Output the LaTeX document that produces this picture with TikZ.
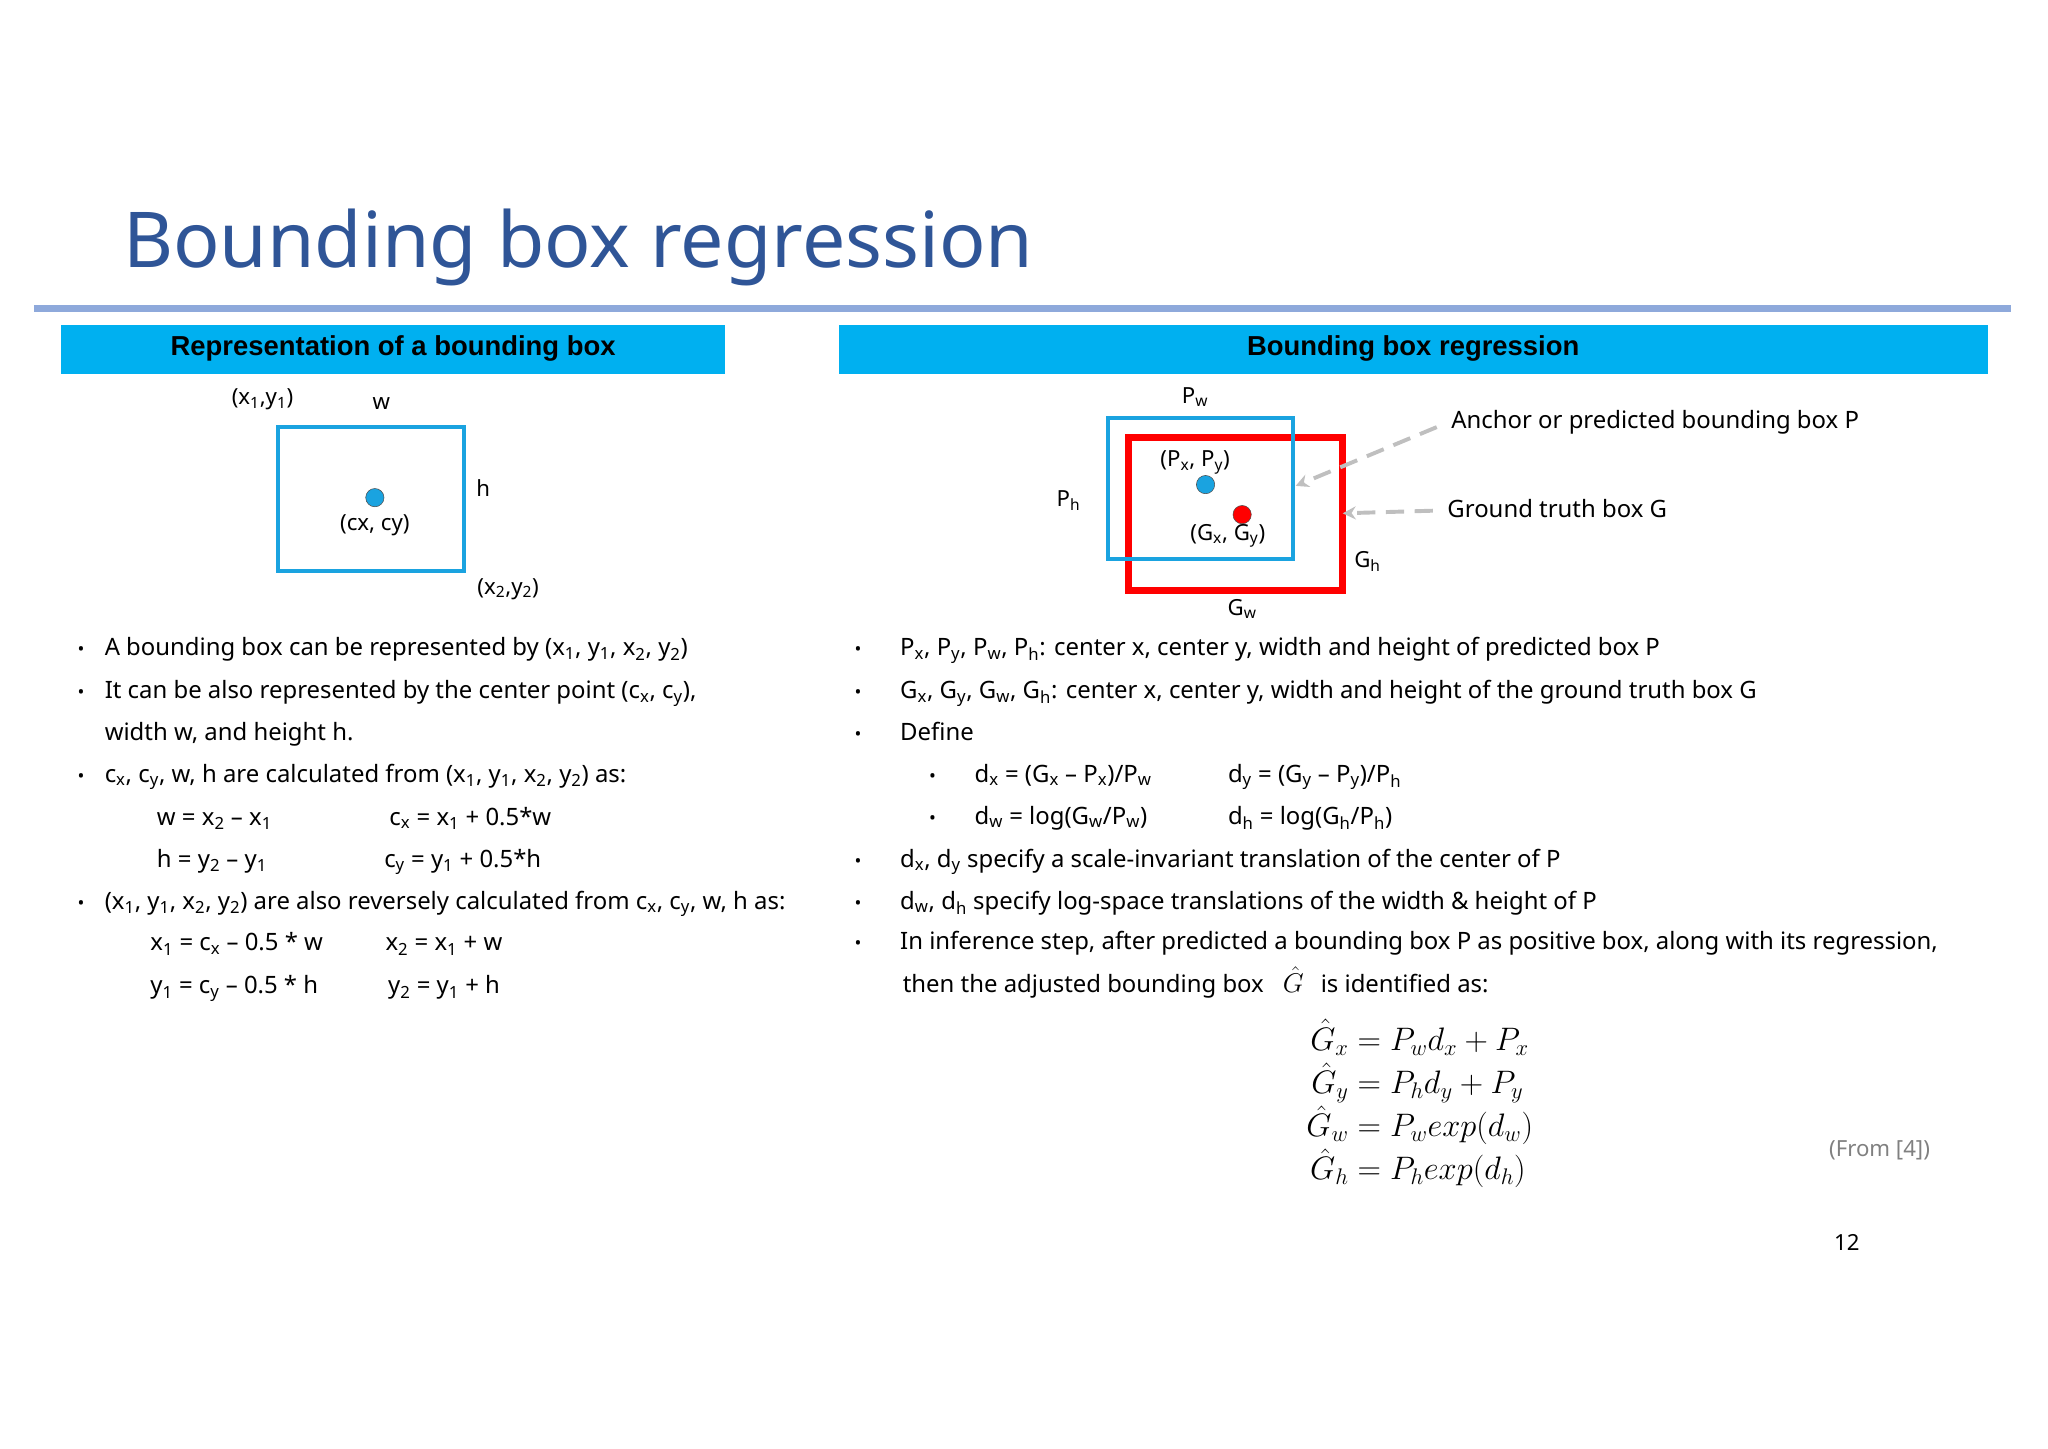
\documentclass[tikz,border=0pt]{standalone}
\usepackage{amsmath}
\usepackage{fontspec}
\setmainfont{Noto Sans}
\newfontfamily\hdrfont{Liberation Sans}
\usetikzlibrary{arrows.meta}
\definecolor{ttl}{HTML}{2F5597}
\definecolor{rule}{HTML}{8EA9DB}
\definecolor{hdr}{HTML}{00B0F0}
\definecolor{bbox}{HTML}{1AA3E0}
\newcommand{\sbs}[1]{\textsubscript{#1}}
\tikzset{
 txt/.style={anchor=base west,inner sep=0,font=\fontsize{18.3}{21}\selectfont},
 lbl/.style={inner sep=0,font=\fontsize{17}{20}\selectfont},
 bul/.style={anchor=base,inner sep=0,font=\fontsize{14}{20}\selectfont},
 hdrbox/.style={fill=hdr,draw=none},
 dashar/.style={draw=gray!50,line width=3pt,dash pattern=on 14pt off 8pt,-{Stealth[length=10pt,width=10pt]}},
}
\begin{document}
\begin{tikzpicture}[x=1pt,y=-1pt]
\useasboundingbox (0,0) rectangle (1568,1109);
\node[anchor=base west,inner sep=0,text=ttl,font=\fontsize{59}{66}\selectfont] (title) at (94,205) {Bounding box regression};
\draw[rule,line width=5pt] (26,236) -- (1540,236);
\fill[hdrbox] (47,249) rectangle (555,286);
\node[font=\hdrfont\fontsize{21}{24}\selectfont\bfseries] (h1) at (301,267) {Representation of a bounding box};
\fill[hdrbox] (642,249) rectangle (1522,286);
\node[font=\hdrfont\fontsize{21}{24}\selectfont\bfseries] (h2) at (1082,267) {Bounding box regression};
% left diagram
\draw[bbox,line width=3pt] (213,327) rectangle (355,437);
\node[circle,fill=bbox,draw=black!70,minimum size=14pt,inner sep=0] (c) at (287,381) {};
\node[lbl] (x1) at (201,306) {(x\sbs{1},y\sbs{1})};
\node[lbl] (w) at (292,309) {w};
\node[lbl] (h) at (370,374) {h};
\node[lbl] (cxy) at (287,402) {(cx, cy)};
\node[lbl] (x2) at (389,451) {(x\sbs{2},y\sbs{2})};
% right diagram
\draw[red,line width=5pt] (864,335) rectangle (1028,452);
\draw[bbox,line width=3pt] (848,320) rectangle (990,428);
\node[circle,fill=bbox,draw=black!70,minimum size=14pt,inner sep=0] (p) at (923,371) {};
\node[circle,fill=red,draw=black!70,minimum size=14pt,inner sep=0] (g) at (951,394) {};
\node[lbl] (pw) at (915,304) {P\sbs{w}};
\node[lbl] (ph) at (818,383) {P\sbs{h}};
\node[lbl] (pxy) at (915,354) {(P\sbs{x}, P\sbs{y})};
\node[lbl] (gxy) at (940,410) {(G\sbs{x}, G\sbs{y})};
\node[lbl] (gh) at (1047,430) {G\sbs{h}};
\node[lbl] (gw) at (951,466) {G\sbs{w}};
\node[txt,anchor=west] (an) at (1111,323) {Anchor or predicted bounding box P};
\node[txt,anchor=west] (gt) at (1108,389) {Ground truth box G};
\coordinate (a1) at (992,372);
\coordinate (a2) at (1028,393);
\coordinate (s1) at (1100,327);
\coordinate (s2) at (1097,391);
\draw[dashar] (s1) -- (a1);
\draw[dashar] (s2) -- (a2);
% left bullets
\foreach \y in {502,535,599,696} \node[bul] at (62,\y) {•};
\node[txt] at (80,502) {A bounding box can be represented by (x\sbs{1}, y\sbs{1}, x\sbs{2}, y\sbs{2})};
\node[txt] at (80,535) {It can be also represented by the center point (c\sbs{x}, c\sbs{y}),};
\node[txt] at (80,567) {width w, and height h.};
\node[txt] at (80,599) {c\sbs{x}, c\sbs{y}, w, h are calculated from (x\sbs{1}, y\sbs{1}, x\sbs{2}, y\sbs{2}) as:};
\node[txt] at (120,632) {w = x\sbs{2} – x\sbs{1}};
\node[txt] at (298,632) {c\sbs{x} = x\sbs{1} + 0.5*w};
\node[txt] at (120,664) {h = y\sbs{2} – y\sbs{1}};
\node[txt] at (294,664) {c\sbs{y} = y\sbs{1} + 0.5*h};
\node[txt] at (80,696) {(x\sbs{1}, y\sbs{1}, x\sbs{2}, y\sbs{2}) are also reversely calculated from c\sbs{x}, c\sbs{y}, w, h as:};
\node[txt] at (115,728) {x\sbs{1} = c\sbs{x} – 0.5 * w};
\node[txt] at (295,728) {x\sbs{2} = x\sbs{1} + w};
\node[txt] at (115,761) {y\sbs{1} = c\sbs{y} – 0.5 * h};
\node[txt] at (297,761) {y\sbs{2} = y\sbs{1} + h};
% right bullets
\foreach \y in {502,535,567,664,696,727} \node[bul] at (657,\y) {•};
\foreach \y in {599,631} \node[bul] at (714,\y) {•};
\node[txt] at (689,502) {P\sbs{x}, P\sbs{y}, P\sbs{w}, P\sbs{h}: center x, center y, width and height of predicted box P};
\node[txt] at (689,535) {G\sbs{x}, G\sbs{y}, G\sbs{w}, G\sbs{h}: center x, center y, width and height of the ground truth box G};
\node[txt] at (689,567) {Define};
\node[txt] at (746,599) {d\sbs{x} = (G\sbs{x} – P\sbs{x})/P\sbs{w}};
\node[txt] at (940,599) {d\sbs{y} = (G\sbs{y} – P\sbs{y})/P\sbs{h}};
\node[txt] at (746,631) {d\sbs{w} = log(G\sbs{w}/P\sbs{w})};
\node[txt] at (940,631) {d\sbs{h} = log(G\sbs{h}/P\sbs{h})};
\node[txt] at (689,664) {d\sbs{x}, d\sbs{y} specify a scale-invariant translation of the center of P};
\node[txt] at (689,696) {d\sbs{w}, d\sbs{h} specify log-space translations of the width \& height of P};
\node[txt] at (689,727) {In inference step, after predicted a bounding box P as positive box, along with its regression,};
\node[txt] at (691,760) {then the adjusted bounding box};
\node[txt,font=\fontsize{22}{24}\selectfont] at (982,760) {$\hat{G}$};
\node[txt] at (1011,760) {is identified as:};
\node[anchor=north,inner sep=0,font=\fontsize{24}{34}\selectfont] (eq) at (1087,780) {$\begin{aligned}
\hat{G}_x &= P_w d_x + P_x\\[-4pt]
\hat{G}_y &= P_h d_y + P_y\\[-4pt]
\hat{G}_w &= P_w \mathnormal{exp}(d_w)\\[-4pt]
\hat{G}_h &= P_h \mathnormal{exp}(d_h)
\end{aligned}$};
\node[lbl,text=gray] (src) at (1439,881) {(From [4])};
\node[lbl] (pg) at (1414,951) {12};
\end{tikzpicture}
\end{document}
